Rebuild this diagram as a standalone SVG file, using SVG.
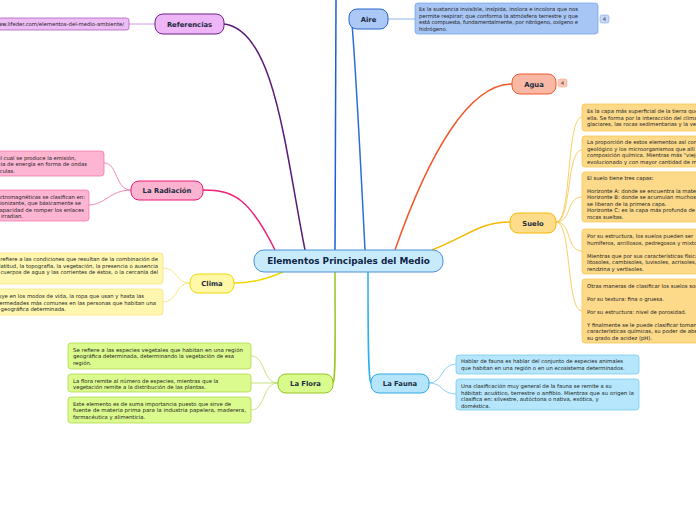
<svg xmlns="http://www.w3.org/2000/svg" width="696" height="520" viewBox="0 0 696 520">
<style>
.lbl{font-family:"DejaVu Sans",Verdana,sans-serif;font-weight:bold;font-size:6.8px;fill:#1b2a40;text-anchor:middle}
.main{font-family:"DejaVu Sans",Verdana,sans-serif;font-weight:bold;font-size:8.9px;fill:#0f2547;text-anchor:middle}
.nt{font-family:"DejaVu Sans",Verdana,sans-serif;font-size:5.3px;fill:#222}
.ntr{font-family:"DejaVu Sans",Verdana,sans-serif;font-size:5.3px;fill:#222;text-anchor:end}
.br{fill:none;stroke-width:1.5}
.sb{fill:none;stroke-width:0.8}
</style>
<rect width="696" height="520" fill="#ffffff"/>
<g id="connectors">
<path class="br" stroke="#5b1a78" d="M305,250 C285,150 275,30 224,24"/>
<path class="br" stroke="#1c5fd6" d="M335,250 C335,160 336,80 336,0"/>
<path class="br" stroke="#2a6fd6" d="M365,250 C360,150 355,60 352,24"/>
<path class="br" stroke="#ee5a2b" d="M395,250 C430,150 470,84 512,84"/>
<path class="br" stroke="#f5b800" d="M432,250 C470,235 480,222 510,222"/>
<path class="br" stroke="#2ab0f0" d="M368,272 C368,330 368,380 371,383"/>
<path class="br" stroke="#9cc51a" d="M335,272 C335,330 336,380 333,383"/>
<path class="br" stroke="#f0d800" d="M283,272 C265,280 250,283 234,283"/>
<path class="br" stroke="#ee1f7a" d="M275,250 C250,200 235,190 203,190"/>
<path class="sb" stroke="#c77fd6" d="M155,24 L129,24"/>
<path class="sb" stroke="#6f9ee6" d="M388,19 L415,19"/>
<path class="sb" stroke="#f36aa6" d="M131,190 C115,190 118,163 104,163"/>
<path class="sb" stroke="#f36aa6" d="M131,190 C110,190 105,205 89,205"/>
<path class="sb" stroke="#f3e173" d="M190,283 C175,283 178,268 163,268"/>
<path class="sb" stroke="#f3e173" d="M190,283 C175,283 178,302 163,302"/>
<path class="sb" stroke="#b8dc60" d="M278,383 C262,383 266,356 251,356"/>
<path class="sb" stroke="#b8dc60" d="M278,383 L251,383"/>
<path class="sb" stroke="#b8dc60" d="M278,383 C262,383 266,410 251,410"/>
<path class="sb" stroke="#6cc5ef" d="M429,383 C443,383 441,364 456,364"/>
<path class="sb" stroke="#6cc5ef" d="M429,383 C443,383 441,394 456,394"/>
<path class="sb" stroke="#f6c343" d="M556,222 C572,222 566,117 582,117"/>
<path class="sb" stroke="#f6c343" d="M556,222 C572,222 566,150 582,150"/>
<path class="sb" stroke="#f6c343" d="M556,222 C572,222 566,197 582,197"/>
<path class="sb" stroke="#f6c343" d="M556,222 C572,222 566,251 582,251"/>
<path class="sb" stroke="#f6c343" d="M556,222 C572,222 566,311 582,311"/>
</g>
<g id="central">
<rect x="254" y="250" width="189" height="22" rx="10" fill="#c7ebfb" stroke="#4b8fd6" stroke-width="1"/>
<text class="main" x="348.5" y="264.3">Elementos Principales del Medio</text>
</g>
<g id="referencias">
<rect x="155" y="14" width="69" height="20" rx="8" fill="#eeb5f7" stroke="#6c2483" stroke-width="1"/>
<text class="lbl" x="189.5" y="26.5">Referencias</text>
</g>
<g id="ref-note">
<rect x="-20" y="18" width="149" height="12" rx="2.5" fill="#efbdf5" stroke="#a052b8" stroke-width="0.7"/>
<text class="ntr" x="124" y="26">https://www.lifeder.com/elementos-del-medio-ambiente/</text>
</g>
<g id="aire">
<rect x="349" y="9" width="39" height="20" rx="8" fill="#abc8f6" stroke="#2b66cc" stroke-width="1"/>
<text class="lbl" x="368.5" y="21.5">Aire</text>
</g>
<g id="aire-note">
<rect x="415" y="3" width="183" height="31" rx="3" fill="#a8c6f5" stroke="#6f9ee6" stroke-width="0.7"/>
<text class="nt" x="419" y="11" textLength="159" lengthAdjust="spacing">Es la sustancia invisible, insípida, inolora e incolora que nos</text>
<text class="nt" x="419" y="17.5" textLength="159" lengthAdjust="spacing">permite respirar; que conforma la atmósfera terrestre y que</text>
<text class="nt" x="419" y="24" textLength="159" lengthAdjust="spacing">está compuesta, fundamentalmente, por nitrógeno, oxígeno e</text>
<text class="nt" x="419" y="30.5">hidrógeno.</text>
<rect x="600" y="15" width="9" height="8" rx="2" fill="#c4d8f7" stroke="#6f9ee6" stroke-width="0.5"/>
<text class="nt" x="604.5" y="21" text-anchor="middle">4</text>
</g>
<g id="agua">
<rect x="512" y="74" width="44" height="20" rx="8" fill="#f9b8a3" stroke="#ea5b2e" stroke-width="1"/>
<text class="lbl" x="534" y="86.5">Agua</text>
<rect x="558" y="79" width="9" height="8" rx="2" fill="#fbc9b8" stroke="#f09a80" stroke-width="0.5"/>
<text class="nt" x="562.5" y="85" text-anchor="middle">4</text>
</g>
<g id="suelo">
<rect x="510" y="213" width="46" height="20" rx="8" fill="#fddc8c" stroke="#f6b800" stroke-width="1"/>
<text class="lbl" x="533" y="225.5">Suelo</text>
</g>
<g id="suelo-notes">
<rect x="582" y="104" width="140" height="27" rx="3" fill="#fdd98a" stroke="#f6c343" stroke-width="0.7"/>
<text class="nt" x="587" y="113">Es la capa más superficial de la tierra que</text>
<text class="nt" x="587" y="119.5">ella. Se forma por la interacción del clima,</text>
<text class="nt" x="587" y="126">glaciares, las rocas sedimentarias y la vegetación</text>
<rect x="582" y="136" width="140" height="31" rx="3" fill="#fdd98a" stroke="#f6c343" stroke-width="0.7"/>
<text class="nt" x="587" y="144">La proporción de estos elementos así como</text>
<text class="nt" x="587" y="150.5">geológico y los microorganismos que allí</text>
<text class="nt" x="587" y="157">composición química. Mientras más "viejo"</text>
<text class="nt" x="587" y="163.5">evolucionado y con mayor cantidad de materia</text>
<rect x="582" y="172" width="140" height="50" rx="3" fill="#fdd98a" stroke="#f6c343" stroke-width="0.7"/>
<text class="nt" x="587" y="180">El suelo tiene tres capas:</text>
<text class="nt" x="587" y="192.5">Horizonte A: donde se encuentra la materia</text>
<text class="nt" x="587" y="199">Horizonte B: donde se acumulan muchos</text>
<text class="nt" x="587" y="205.5">se liberan de la primera capa.</text>
<text class="nt" x="587" y="212">Horizonte C: es la capa más profunda de</text>
<text class="nt" x="587" y="218.5">rocas sueltas.</text>
<rect x="582" y="229" width="140" height="45" rx="3" fill="#fdd98a" stroke="#f6c343" stroke-width="0.7"/>
<text class="nt" x="587" y="238">Por su estructura, los suelos pueden ser</text>
<text class="nt" x="587" y="244.5">humíferos, arcillosos, pedregosos y mixtos.</text>
<text class="nt" x="587" y="257.5">Mientras que por sus características físicas</text>
<text class="nt" x="587" y="264">litosoles, cambisoles, luvisoles, acrisoles,</text>
<text class="nt" x="587" y="270.5">rendzina y vertisoles.</text>
<rect x="582" y="279" width="140" height="64" rx="3" fill="#fdd98a" stroke="#f6c343" stroke-width="0.7"/>
<text class="nt" x="587" y="287.5">Otras maneras de clasificar los suelos son:</text>
<text class="nt" x="587" y="300.5">Por su textura: fina o gruesa.</text>
<text class="nt" x="587" y="313.5">Por su estructura: nivel de porosidad.</text>
<text class="nt" x="587" y="326.5">Y finalmente se le puede clasificar tomando</text>
<text class="nt" x="587" y="333">características químicas, su poder de absorción</text>
<text class="nt" x="587" y="339.5">su grado de acidez (pH).</text>
</g>
<g id="fauna">
<rect x="371" y="374" width="58" height="19" rx="8" fill="#b5e5fa" stroke="#2fa9e6" stroke-width="1"/>
<text class="lbl" x="400" y="386">La Fauna</text>
</g>
<g id="fauna-notes">
<rect x="456" y="355" width="183" height="19" rx="3" fill="#b5e6fb" stroke="#6cc5ef" stroke-width="0.7"/>
<text class="nt" x="461" y="363">Hablar de fauna es hablar del conjunto de especies animales</text>
<text class="nt" x="461" y="369.5">que habitan en una región o en un ecosistema determinados.</text>
<rect x="456" y="379" width="183" height="31" rx="3" fill="#b5e6fb" stroke="#6cc5ef" stroke-width="0.7"/>
<text class="nt" x="461" y="388">Una clasificación muy general de la fauna se remite a su</text>
<text class="nt" x="461" y="394.5" textLength="173" lengthAdjust="spacingAndGlyphs">hábitat: acuático, terrestre o anfibio. Mientras que su origen la</text>
<text class="nt" x="461" y="401">clasifica en: silvestre, autóctona o nativa, exótica, y</text>
<text class="nt" x="461" y="407.5">doméstica.</text>
</g>
<g id="flora">
<rect x="278" y="374" width="55" height="19" rx="8" fill="#d9fb8e" stroke="#97c320" stroke-width="1"/>
<text class="lbl" x="305.5" y="386">La Flora</text>
</g>
<g id="flora-notes">
<rect x="68" y="343" width="183" height="26" rx="3" fill="#dcfb8e" stroke="#a6d43c" stroke-width="0.7"/>
<text class="nt" x="73" y="351.5" textLength="170" lengthAdjust="spacingAndGlyphs">Se refiere a las especies vegetales que habitan en una región</text>
<text class="nt" x="73" y="358">geográfica determinada, determinando la vegetación de esa</text>
<text class="nt" x="73" y="364.5">región.</text>
<rect x="68" y="374" width="183" height="18" rx="3" fill="#dcfb8e" stroke="#a6d43c" stroke-width="0.7"/>
<text class="nt" x="73" y="382.5">La flora remite al número de especies, mientras que la</text>
<text class="nt" x="73" y="389">vegetación remite a la distribución de las plantas.</text>
<rect x="68" y="397" width="183" height="26" rx="3" fill="#dcfb8e" stroke="#a6d43c" stroke-width="0.7"/>
<text class="nt" x="73" y="405.5">Este elemento es de suma importancia puesto que sirve de</text>
<text class="nt" x="73" y="412" textLength="173" lengthAdjust="spacingAndGlyphs">fuente de materia prima para la industria papelera, maderera,</text>
<text class="nt" x="73" y="418.5">farmacéutica y alimenticia.</text>
</g>
<g id="clima">
<rect x="190" y="274" width="44" height="19" rx="8" fill="#fff8a8" stroke="#eed900" stroke-width="1"/>
<text class="lbl" x="212" y="286">Clima</text>
</g>
<g id="clima-notes">
<rect x="-30" y="253" width="193" height="31" rx="3" fill="#fff7b0" stroke="#f3e173" stroke-width="0.7"/>
<text class="ntr" x="158" y="261">Se refiere a las condiciones que resultan de la combinación de</text>
<text class="ntr" x="158" y="267.5">la latitud, la topografía, la vegetación, la presencia o ausencia</text>
<text class="ntr" x="158" y="274">de cuerpos de agua y las corrientes de éstos, o la cercanía del</text>
<rect x="-30" y="289" width="193" height="26" rx="3" fill="#fff7b0" stroke="#f3e173" stroke-width="0.7"/>
<text class="ntr" x="144" y="298">Influye en los modos de vida, la ropa que usan y hasta las</text>
<text class="ntr" x="156" y="304.5">enfermedades más comunes en las personas que habitan una</text>
<text class="ntr" x="66" y="311">zona geográfica determinada.</text>
</g>
<g id="radiacion">
<rect x="131" y="181" width="72" height="19" rx="8" fill="#fbb3d0" stroke="#ec1a75" stroke-width="1"/>
<text class="lbl" x="167" y="193">La Radiación</text>
</g>
<g id="radiacion-notes">
<rect x="-30" y="151" width="134" height="25" rx="3" fill="#fdb5d2" stroke="#f36aa6" stroke-width="0.7"/>
<text class="ntr" x="76" y="159.5">Es el proceso mediante el cual se produce la emisión,</text>
<text class="ntr" x="87" y="166">propagación y transferencia de energía en forma de ondas</text>
<text class="ntr" x="15" y="172.5">electromagnéticas o partículas.</text>
<rect x="-30" y="190" width="119" height="31" rx="3" fill="#fdb5d2" stroke="#f36aa6" stroke-width="0.7"/>
<text class="ntr" x="85" y="198.5">Las radiaciones electromagnéticas se clasifican en:</text>
<text class="ntr" x="81" y="205">ionizante y no ionizante, que básicamente se</text>
<text class="ntr" x="84" y="211.5">diferencian por su capacidad de romper los enlaces</text>
<text class="ntr" x="23" y="218">de la materia que irradian.</text>
</g>
</svg>
